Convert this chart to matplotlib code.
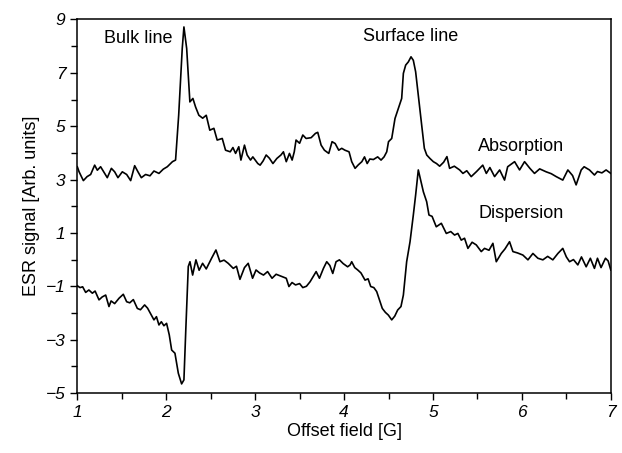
import matplotlib
matplotlib.use("Agg")
import matplotlib.pyplot as plt
from matplotlib.ticker import MultipleLocator

plt.rcParams['font.family'] = ['Liberation Sans', 'DejaVu Sans']

# absorption trace
abs_x = [1.00, 1.02, 1.068, 1.11, 1.15, 1.195, 1.225, 1.262, 1.307, 1.337, 1.383, 1.42, 1.457,
         1.506, 1.555, 1.60, 1.645, 1.682, 1.72, 1.768, 1.817, 1.862, 1.918, 1.967, 2.012,
         2.07, 2.105, 2.14, 2.18, 2.199, 2.23, 2.266, 2.30, 2.33, 2.367, 2.41, 2.45, 2.49,
         2.536, 2.573, 2.63, 2.667, 2.72, 2.75, 2.78, 2.816, 2.84, 2.88, 2.91, 2.948, 2.974,
         3.03, 3.056, 3.09, 3.124, 3.16, 3.20, 3.244, 3.29, 3.318, 3.35, 3.386, 3.416, 3.44,
         3.46, 3.50, 3.536, 3.573, 3.63, 3.678, 3.704, 3.742, 3.779, 3.828, 3.865, 3.90,
         3.94, 3.974, 4.01, 4.056, 4.086, 4.124, 4.16, 4.20, 4.23, 4.26, 4.29, 4.33, 4.378,
         4.416, 4.45, 4.48, 4.50, 4.536, 4.573, 4.61, 4.648, 4.667, 4.693, 4.723, 4.753,
         4.779, 4.805, 4.843, 4.873, 4.903, 4.93, 4.966, 5.004, 5.04, 5.075, 5.12, 5.157,
         5.187, 5.24, 5.30, 5.337, 5.38, 5.43, 5.49, 5.56, 5.60, 5.64, 5.693, 5.75, 5.805,
         5.84, 5.918, 5.974, 6.03, 6.09, 6.142, 6.20, 6.273, 6.33, 6.386, 6.46, 6.517, 6.57,
         6.61, 6.667, 6.70, 6.76, 6.816, 6.85, 6.90, 6.947, 7.00]
abs_y = [3.48, 3.29, 2.96, 3.11, 3.19, 3.54, 3.35, 3.48, 3.23, 3.07, 3.42, 3.29, 3.07,
         3.29, 3.19, 2.96, 3.52, 3.29, 3.07, 3.19, 3.14, 3.32, 3.23, 3.39, 3.48,
         3.67, 3.73, 5.41, 7.91, 8.72, 7.91, 5.91, 6.04, 5.72, 5.41, 5.30, 5.41, 4.85,
         4.92, 4.48, 4.54, 4.10, 4.04, 4.20, 3.98, 4.23, 3.73, 4.29, 3.92, 3.73, 3.85,
         3.60, 3.54, 3.70, 3.92, 3.80, 3.60, 3.79, 3.92, 4.04, 3.67, 3.98, 3.73, 4.04,
         4.48, 4.36, 4.67, 4.54, 4.57, 4.73, 4.77, 4.29, 4.10, 3.98, 4.42, 4.35,
         4.10, 4.17, 4.10, 4.04, 3.67, 3.42, 3.55, 3.67, 3.85, 3.60, 3.77, 3.75, 3.85,
         3.73, 3.85, 4.04, 4.42, 4.54, 5.29, 5.66, 6.04, 6.98, 7.29, 7.41, 7.60,
         7.47, 7.04, 5.91, 5.04, 4.17, 3.92, 3.79, 3.67, 3.60, 3.50, 3.65, 3.86,
         3.42, 3.50, 3.36, 3.23, 3.33, 3.11, 3.30, 3.54, 3.23, 3.45, 3.11, 3.36, 2.98,
         3.48, 3.67, 3.36, 3.67, 3.42, 3.23, 3.40, 3.29, 3.22, 3.11, 2.98, 3.36, 3.15,
         2.80, 3.36, 3.48, 3.36, 3.17, 3.30, 3.25, 3.36, 3.23]

# dispersion trace
dis_x = [1.00, 1.03, 1.06, 1.094, 1.13, 1.169, 1.20, 1.244, 1.28, 1.319, 1.356, 1.38,
         1.42, 1.469, 1.517, 1.555, 1.59, 1.63, 1.675, 1.71, 1.757, 1.79, 1.832, 1.862,
         1.89, 1.918, 1.945, 1.974, 2.004, 2.034, 2.061, 2.098, 2.136, 2.173, 2.199, 2.22,
         2.248, 2.267, 2.297, 2.334, 2.37, 2.409, 2.45, 2.51, 2.559, 2.604, 2.65, 2.697,
         2.754, 2.79, 2.829, 2.88, 2.922, 2.971, 3.01, 3.05, 3.094, 3.14, 3.19, 3.236,
         3.29, 3.35, 3.38, 3.415, 3.454, 3.50, 3.536, 3.577, 3.618, 3.65, 3.686, 3.723,
         3.768, 3.805, 3.84, 3.873, 3.91, 3.948, 3.99, 4.04, 4.068, 4.086, 4.12, 4.154,
         4.19, 4.236, 4.27, 4.30, 4.335, 4.367, 4.405, 4.43, 4.465, 4.498, 4.536, 4.57,
         4.603, 4.64, 4.667, 4.704, 4.742, 4.779, 4.805, 4.835, 4.865, 4.892, 4.929,
         4.955, 4.99, 5.037, 5.094, 5.15, 5.20, 5.243, 5.28, 5.318, 5.355, 5.393, 5.44,
         5.487, 5.543, 5.58, 5.63, 5.674, 5.712, 5.768, 5.81, 5.861, 5.899, 5.95, 6.011,
         6.068, 6.124, 6.18, 6.236, 6.29, 6.348, 6.405, 6.46, 6.50, 6.536, 6.58, 6.629,
         6.67, 6.723, 6.77, 6.816, 6.85, 6.89, 6.94, 6.97, 7.00]
dis_y = [-0.98, -1.05, -1.02, -1.23, -1.14, -1.26, -1.18, -1.51, -1.40, -1.33, -1.76, -1.55,
         -1.65, -1.45, -1.30, -1.58, -1.62, -1.50, -1.83, -1.88, -1.70, -1.82, -2.08, -2.26,
         -2.14, -2.45, -2.33, -2.48, -2.39, -2.82, -3.39, -3.51, -4.26, -4.66, -4.51, -2.64,
         -0.26, -0.08, -0.58, -0.01, -0.40, -0.14, -0.35, 0.05, 0.36, -0.08, -0.02, -0.14,
         -0.33, -0.25, -0.74, -0.30, -0.14, -0.70, -0.39, -0.50, -0.58, -0.45, -0.70, -0.55,
         -0.62, -0.70, -1.01, -0.86, -0.95, -0.90, -1.05, -1.00, -0.83, -0.65, -0.45, -0.70,
         -0.33, -0.08, -0.22, -0.52, -0.08, -0.01, -0.15, -0.27, -0.20, -0.08, -0.30, -0.39,
         -0.50, -0.77, -0.72, -1.01, -1.05, -1.20, -1.58, -1.83, -1.98, -2.08, -2.26, -2.12,
         -1.89, -1.76, -1.33, -0.08, 0.67, 1.67, 2.42, 3.36, 2.92, 2.54, 2.17,
         1.67, 1.62, 1.23, 1.36, 0.98, 1.05, 0.92, 0.98, 0.73, 0.80, 0.42, 0.65,
         0.55, 0.30, 0.42, 0.35, 0.61, -0.08, 0.23, 0.40, 0.67, 0.30, 0.25, 0.17,
         -0.01, 0.23, 0.05, -0.01, 0.12, -0.01, 0.23, 0.42, 0.10, -0.08, 0.00, -0.20,
         0.10, -0.27, 0.05, -0.33, 0.05, -0.30, 0.05, -0.05, -0.39]

fig = plt.figure(figsize=(6.22, 4.53), dpi=100)
ax = fig.add_axes([0.1243, 0.1325, 0.8577, 0.8245])

ax.plot(abs_x, abs_y, color='black', lw=1.2)
ax.plot(dis_x, dis_y, color='black', lw=1.2)

ax.set_xlim(1, 7)
ax.set_ylim(-5, 9)
ax.xaxis.set_major_locator(MultipleLocator(1))
ax.xaxis.set_minor_locator(MultipleLocator(0.5))
ax.yaxis.set_minor_locator(MultipleLocator(1))
ax.set_yticks([9, 7, 5, 3, 1, -1, -3, -5])
ax.tick_params(which='both', direction='out', width=1.0, labelsize=12.5)
ax.tick_params(which='major', length=5)
ax.tick_params(which='minor', length=4)
for lab in ax.get_xticklabels() + ax.get_yticklabels():
    lab.set_fontstyle('italic')
for s in ax.spines.values():
    s.set_linewidth(1.1)

ax.set_xlabel('Offset field [G]', fontsize=13, labelpad=2)
ax.set_ylabel('ESR signal [Arb. units]', fontsize=13, labelpad=4)

ax.text(1.69, 8.3, 'Bulk line', fontsize=13, ha='center', va='center')
ax.text(4.75, 8.35, 'Surface line', fontsize=13, ha='center', va='center')
ax.text(5.99, 4.24, 'Absorption', fontsize=13, ha='center', va='center')
ax.text(5.99, 1.73, 'Dispersion', fontsize=13, ha='center', va='center')

fig.savefig('out.png', dpi=100)
